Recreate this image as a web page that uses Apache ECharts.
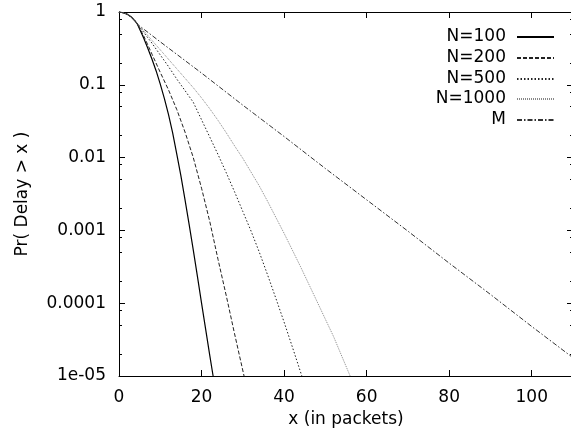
<!DOCTYPE html>
<html><head><meta charset="utf-8">
<script src="https://cdn.jsdelivr.net/npm/echarts@6/dist/echarts.min.js"></script>
<style>html,body{margin:0;padding:0;background:#fff}#c{width:571px;height:430px}</style>
</head><body><div id="c"></div>
<script>
const seriesNames = ['N=100', 'N=200', 'N=500', 'N=1000', 'M'];

const n100X = [0, 1, 2, 3, 4, 4.5, 6, 7, 8, 9, 10, 11, 12, 13, 14, 15, 16, 17, 18, 19, 20, 21, 22, 22.8];
const n100P = [1, 0.977, 0.933, 0.851, 0.741, 0.676, 0.437, 0.316, 0.224, 0.155, 0.102, 0.0646, 0.0389, 0.0219, 0.0112, 0.00562, 0.00263, 0.0012, 0.000537, 0.000234, 0.0001, 0.0000437, 0.0000191, 0.00001];

const n200X = [0, 1, 2, 3, 4, 4.5, 6, 8, 10, 12, 14, 16, 18, 20, 22, 24, 26, 28, 30.3];
const n200P = [1, 0.977, 0.933, 0.851, 0.741, 0.676, 0.468, 0.263, 0.148, 0.0851, 0.0457, 0.0224, 0.01, 0.0038, 0.00132, 0.000398, 0.000126, 0.000038, 0.00001];

const n500X = [0, 1, 2, 3, 4, 4.5, 6, 8, 10, 12, 14, 16, 18, 20, 22, 24, 26, 28, 30, 32, 34, 36, 38, 40, 42, 44.3];
const n500P = [1, 0.977, 0.933, 0.851, 0.741, 0.676, 0.525, 0.372, 0.257, 0.178, 0.120, 0.0832, 0.0575, 0.0331, 0.0191, 0.011, 0.00617, 0.00339, 0.00182, 0.000977, 0.000501, 0.000245, 0.000117, 0.000055, 0.0000251, 0.00001];

const n1000X = [0, 1, 2, 3, 4, 4.5, 6, 8, 10, 12, 14, 16, 18, 20, 22, 24, 26, 28, 30, 32, 34, 36, 38, 40, 42, 44, 46, 48, 50, 52, 54, 56];
const n1000P = [1, 0.977, 0.933, 0.851, 0.741, 0.676, 0.550, 0.407, 0.302, 0.224, 0.166, 0.123, 0.0912, 0.0661, 0.0468, 0.0324, 0.0219, 0.0145, 0.00977, 0.00631, 0.00407, 0.00251, 0.00151, 0.000912, 0.000537, 0.000316, 0.000182, 0.000105, 0.0000603, 0.0000347, 0.0000186, 0.00001];

const mX = [0, 1, 2, 3, 4, 4.5, 10, 20, 30, 40, 50, 60, 70, 80, 90, 100, 110];
const mP = [1, 0.977, 0.933, 0.851, 0.741, 0.676, 0.389, 0.145, 0.0525, 0.0195, 0.00708, 0.00263, 0.000977, 0.000355, 0.000132, 0.0000479, 0.0000178];

const xTicks = [0, 20, 40, 60, 80, 100];
const yTicks = [1, 0.1, 0.01, 0.001, 0.0001, 0.00001];
const yTickLabels = ['1', '0.1', '0.01', '0.001', '0.0001', '1e-05'];
const yMinorTicks = [0.8, 0.5, 0.2, 0.08, 0.05, 0.02, 0.008, 0.005, 0.002, 0.0008, 0.0005, 0.0002, 0.00008, 0.00005, 0.00002];
const xTitle = 'x (in packets)';
const yTitle = 'Pr( Delay > x )';

const FONT = 'DejaVu Sans';
const pairs = (xs, ys) => xs.map((x, i) => [x, ys[i]]);
const seriesData = [pairs(n100X, n100P), pairs(n200X, n200P), pairs(n500X, n500P), pairs(n1000X, n1000P), pairs(mX, mP)];
const styles = [
  {color: '#000', width: 1.2, type: 'solid'},
  {color: '#222', width: 1, type: [4, 2]},
  {color: '#222', width: 1, type: [1.5, 2]},
  {color: '#888', width: 1, type: [1, 1]},
  {color: '#333', width: 1, type: [5, 2, 1.5, 2]}
];
const legendCenters = [35, 56, 77, 97, 118];

const yLabelIndex = v => Math.round(-Math.log10(v));
const baseY = (pos, ticks, len, labels, line) => ({
  type: 'log', logBase: 10, min: 0.00001, max: 1, position: pos,
  axisLine: {show: line, lineStyle: {color: '#000', width: 1}},
  axisTick: {show: true, inside: true, length: len, customValues: ticks, lineStyle: {color: '#000', width: 1}},
  axisLabel: labels ? {show: true, customValues: yTicks, margin: 13, fontFamily: FONT, fontSize: 17, color: '#000',
    formatter: v => yTickLabels[yLabelIndex(v)]} : {show: false},
  splitLine: {show: false}, minorTick: {show: false}
});

const chart = echarts.init(document.getElementById('c'), null, {renderer: 'canvas'});
const yAxes = [
  Object.assign(baseY('left', yTicks, 6, true, true), {name: yTitle, nameLocation: 'middle', nameGap: 88,
    nameTextStyle: {fontFamily: FONT, fontSize: 17, color: '#000'}}),
  baseY('left', yMinorTicks, 3, false, false),
  baseY('right', yTicks, 6, false, true),
  baseY('right', yMinorTicks, 3, false, false)
];
chart.setOption({
  animation: false,
  backgroundColor: '#fff',
  grid: {left: 119, top: 12, right: -2, bottom: 54, containLabel: false, outerBoundsMode: 'none'},
  xAxis: [
    {type: 'value', min: 0, max: 110, position: 'bottom',
     axisLine: {show: true, onZero: false, lineStyle: {color: '#000', width: 1}},
     axisTick: {show: true, inside: true, length: 6, customValues: xTicks, lineStyle: {color: '#000'}},
     axisLabel: {show: true, customValues: xTicks, margin: 13, fontFamily: FONT, fontSize: 17, color: '#000'},
     splitLine: {show: false},
     name: xTitle, nameLocation: 'middle', nameGap: 33,
     nameTextStyle: {fontFamily: FONT, fontSize: 17, color: '#000'}},
    {type: 'value', min: 0, max: 110, position: 'top',
     axisLine: {show: true, onZero: false, lineStyle: {color: '#000', width: 1}},
     axisTick: {show: true, inside: true, length: 6, customValues: xTicks, lineStyle: {color: '#000'}},
     axisLabel: {show: false}, splitLine: {show: false}}
  ],
  yAxis: yAxes,
  legend: seriesNames.map((n, i) => ({
    data: [n], right: 16, top: legendCenters[i] - 6.5, align: 'right', orient: 'horizontal',
    itemWidth: 37, itemHeight: 12, padding: 0, selectedMode: false,
    itemStyle: {color: 'rgba(0,0,0,0)', borderColor: 'rgba(0,0,0,0)', borderWidth: 0},
    textStyle: {fontFamily: FONT, fontSize: 17, color: '#000', padding: [0, 6, 0, 0]}
  })),
  series: seriesNames.map((n, i) => ({
    name: n, type: 'line', xAxisIndex: 0, yAxisIndex: 0, data: seriesData[i],
    symbol: 'none', showSymbol: false, smooth: false,
    lineStyle: styles[i], itemStyle: {color: styles[i].color},
    emphasis: {disabled: true}
  }))
});
</script></body></html>
